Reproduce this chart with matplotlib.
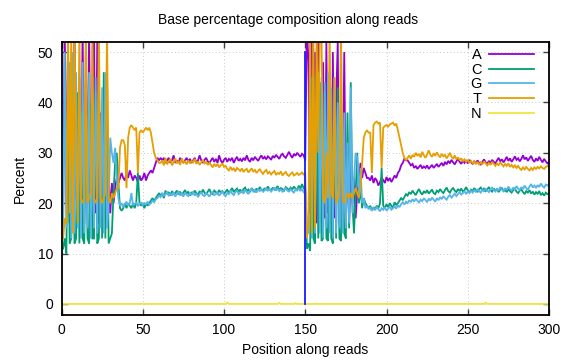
import numpy as np
import matplotlib
matplotlib.use("Agg")
import matplotlib.pyplot as plt

# ---------------- data (percent per position along reads) ----------------
positions = list(range(1, 301))
read_boundary = 150
boundary_span = [0, 50]

A1 = [18, 55, 20, 52, 16, 48, 17, 55, 22, 17, 45, 18, 55, 16, 50, 20, 55, 17, 30, 55,
      18, 52, 16, 38, 19, 30, 17, 22, 26, 18, 24, 20, 23, 25, 24,
      25, 26, 25, 24.5, 26, 25, 26.5, 25.5, 24.5, 25.5, 25, 24.2, 25.5, 24.5, 25, 26, 24.5, 25.5, 26, 26.5,
      26, 27, 28, 29, 28.5,
      29, 28.5, 29, 28, 28.5, 29, 28, 28.5, 29.5, 28, 28.5, 28, 29, 28.5, 28, 28.5, 29, 28.2, 28.8, 28,
      28.5, 29, 28, 28.5, 29.5, 28.5, 28, 28.6, 29, 28.3, 28, 28.5, 29, 28.2, 28.8, 28, 29.5, 28.5, 28, 28.6,
      29, 28.2, 28.8, 28.5, 29, 28, 28.7, 29.2, 28.4, 28.8, 28.3, 29, 28.5, 29.5, 28.6, 28.2, 29, 28.5, 29.2, 28.8,
      28.4, 29, 29.5, 28.8, 29.2, 28.7, 29.3, 29, 28.6, 29.4, 29, 29.6, 29.2, 28.8, 29.5, 29.8, 29.3, 29, 29.6, 30.2,
      29.5, 29, 29.8, 29.4, 30, 29.6, 29.2, 29.8, 29.5, 28.5]
A2 = [55, 48, 18, 52, 17, 50, 16, 55, 20, 16, 48, 17, 52, 18, 45, 16, 50, 17, 40, 52,
      16, 35, 18, 50, 17, 30, 16, 28, 20, 25, 17, 22, 24, 28, 25, 27, 26, 25,
      25, 24.5, 25.5, 24, 25, 24.5, 23.5, 24.2, 25, 24.6, 24, 25.2, 24.4, 25, 24.2, 24.8, 25.5, 25, 26, 26.5,
      27.5, 28, 28.8, 28.5,
      28.5, 28, 27.5, 27.8, 27, 27.4, 26.8, 27.2, 27.6, 26.9, 27.3, 27, 27.5, 26.8, 27.2, 27.6, 27, 27.4, 27.8, 27.2,
      27.6, 28, 27.4, 28.2, 27.7, 28.4, 27.9, 28.6, 28.1, 27.7, 28.3, 28.8, 28.2, 27.8, 28.5, 28, 28.4, 27.9, 28.6, 28.1,
      27.8, 28.3, 27.9, 28.5, 28, 27.6, 28.2, 28.7, 28.1, 27.8, 28.4, 28, 28.6, 28.2, 27.9, 28.5, 29, 28.3, 28.7, 28.1,
      28.6, 29.2, 28.4, 28.9, 28.2, 28.7, 29.3, 28.6, 28.9, 28.3, 28.8, 29.5, 28.7, 29.1, 28.4, 28.9, 29.4, 28.6, 28.2, 28.9,
      28.4, 29.2, 28.6, 28.1, 28.8, 28.3, 27.9, 28.2]

C1 = [11, 13, 10, 40, 12, 13, 45, 12, 13, 42, 12, 38, 13, 12, 44, 13, 12, 40, 13, 13,
      42, 12, 13, 36, 13, 46, 13, 47, 12, 13, 14, 22, 28, 30, 24,
      19, 18.5, 19, 20, 19, 20, 19.5, 19, 20, 19, 20, 26, 20, 19.5, 20, 19, 20, 19.5, 20, 20.5,
      21, 20.5, 21, 21.5, 22,
      21.5, 22, 21, 22.5, 21.8, 22.2, 21.5, 22.4, 21.8, 22, 22.5, 21.7, 22.3, 21.6, 22.1, 22.6, 21.9, 22.3, 21.5, 22.2,
      21.8, 22.5, 22, 21.6, 22.4, 21.9, 22.7, 22.1, 21.7, 22.3, 22.8, 22, 21.8, 22.5, 22.2, 21.9, 22.6, 22.1, 22.4, 21.8,
      22.3, 22.7, 22, 22.5, 23, 22.2, 22.6, 22.9, 22.3, 22.7, 22.1, 22.8, 23.1, 22.4, 22.7, 22.2, 23, 22.6, 22.3, 22.9,
      22.5, 23.2, 22.7, 22.4, 23, 22.6, 23.3, 22.8, 22.5, 23.1, 22.7, 22.9, 23.4, 22.6, 23, 22.8, 22.5, 23.2, 22.9, 22.6,
      23.1, 22.7, 23.3, 22.9, 22.5, 23.5, 22.8, 23.8, 23, 22.6]
C2 = [11, 12, 10.5, 45, 13, 12, 46, 13, 44, 12.5, 13, 42, 13, 12.5, 45, 13, 12, 40, 13, 43,
      13, 12.5, 30, 14, 13, 38, 15, 44, 20, 14, 22, 30, 20, 23, 19, 21, 20, 19.5,
      19, 19.5, 18.5, 19.2, 18.8, 19.5, 19, 20, 27, 19.5, 19, 19.8, 19.2, 20, 19.5, 19, 20.2, 19.6, 20, 20.5,
      21, 20.6, 21.2, 21.8,
      21.5, 22.2, 21.8, 22.5, 22, 21.6, 22.3, 22.8, 22.1, 21.7, 22.4, 22, 22.6, 21.9, 22.3, 22.7, 22, 21.8, 22.5, 22.2,
      22.8, 22.3, 22, 22.6, 23.1, 22.4, 22.1, 22.7, 23, 22.5, 22.2, 22.8, 22.4, 22.9, 22.3, 22.6, 23.2, 22.5, 22.1, 22.7,
      22.4, 23, 22.6, 22.2, 22.8, 23.1, 22.5, 22.9, 22.4, 22.7, 23.2, 22.6, 22.3, 22.9, 22.5, 22.8, 22.2, 22.7, 23, 22.4,
      22.6, 22.2, 22.8, 22.4, 22.1, 22.6, 22.9, 22.3, 22, 22.5, 22.7, 22.2, 21.8, 22.4, 22.1, 22.6, 21.9, 22.3, 21.7, 22.2,
      21.8, 22.4, 21.6, 22, 21.5, 22.1, 21.8, 22]

G1 = [14, 50, 15, 45, 48, 13, 50, 14, 46, 15, 40, 13, 48, 14, 44, 15, 46, 13, 40, 15,
      45, 14, 47, 15, 43, 14, 46, 15, 20, 33, 30, 28, 31, 25, 21,
      19.5, 20, 19.2, 19.8, 20.3, 19.5, 20, 22, 19.6, 19.8, 20.2, 19.4, 19.9, 20.1, 19.6, 20, 19.8, 20.3, 19.7, 20,
      20.5, 20.2, 20.8, 21, 21.5,
      21.2, 22, 21.5, 21.8, 22.3, 21.4, 21.9, 21.6, 22.2, 21.3, 21.8, 22.4, 21.6, 21.9, 21.3, 22.1, 21.7, 21.4, 22, 21.6,
      22.3, 21.5, 21.9, 21.2, 21.8, 22.2, 21.6, 21.4, 22, 21.7, 21.3, 21.9, 22.3, 21.6, 21.8, 22.1, 21.5, 21.9, 22.4, 21.7,
      21.4, 22, 21.8, 22.5, 21.9, 21.6, 22.2, 22.6, 21.8, 22.1, 22.4, 21.9, 22.7, 22.2, 21.8, 22.5, 22.9, 22.3, 22.6, 22.1,
      22.8, 22.4, 22.9, 22.2, 22.6, 23, 22.5, 22.8, 22.3, 22.7, 23.1, 22.5, 22.9, 22.4, 22.8, 22.2, 22.6, 23, 22.5, 22.3,
      22.8, 22.4, 22.1, 22.7, 22.5, 23, 22.4, 22.8, 22.2, 22.5]
G2 = [15, 14, 47, 13, 45, 14, 40, 46, 14, 45, 13, 44, 15, 46, 14, 43, 13, 45, 14, 40,
      15, 42, 14, 38, 15, 32, 16, 43, 18, 25, 30, 29, 22, 27, 20, 21, 19, 19.5,
      18.8, 19.2, 18.5, 19, 18.6, 19.3, 18.8, 18.4, 19, 18.7, 19.2, 18.5, 18.9, 19.3, 18.7, 19, 19.4, 18.9, 19.6, 19.2,
      19.8, 20.2, 19.7, 20.3,
      20, 20.6, 20.2, 20.8, 20.3, 20.9, 20.5, 20.1, 20.7, 20.4, 21, 20.6, 20.2, 20.9, 20.5, 21.1, 20.7, 20.3, 21, 20.6,
      21.2, 20.8, 21.4, 21, 20.7, 21.3, 21.6, 21.1, 21.5, 21.9, 21.4, 21.8, 22.2, 21.7, 22, 22.4, 21.8, 22.3, 22, 22.5,
      22.1, 22.6, 22.2, 22.8, 22.4, 22.1, 22.7, 22.3, 22.9, 22.5, 22.2, 22.8, 23.1, 22.6, 22.3, 22.9, 22.5, 23.2, 22.7, 22.4,
      23, 22.6, 23.3, 22.8, 22.5, 23.1, 22.7, 23.4, 22.9, 22.6, 23.2, 22.8, 23.5, 23, 22.7, 23.3, 23.8, 23.1, 23.5, 23,
      23.6, 23.2, 23.9, 23.4, 23.1, 23.7, 23.5, 23.8]

T1 = [13, 17, 16, 55, 18, 55, 14, 55, 30, 16, 55, 21, 20, 21, 55, 20, 21, 22, 55, 21,
      20, 21, 55, 21, 20, 21, 22, 55, 21, 20, 22, 21, 22, 23, 23,
      31, 32.5, 32.5, 31.5, 23, 33, 35, 35.5, 35, 34.5, 35, 26, 34, 34.5, 34, 34.5, 35, 34.5, 35, 34,
      32, 30, 29, 28.5, 28,
      28, 28.5, 27.5, 29, 27.7, 28.3, 28.8, 27.5, 28.1, 28.9, 27.9, 28.4, 27.6, 28.9, 28, 28.3, 27.7, 28.5, 27.9, 28.4,
      28.1, 28.8, 27.8, 28.3, 27.6, 28.1, 28.6, 27.9, 28.2, 27.6, 28, 27.6, 27.1, 27.8, 27.3, 27.8, 27.1, 27.5, 27.9, 27.2,
      27.4, 26.8, 26.5, 27.2, 26.6, 26.9, 26.3, 27, 26.7, 26.4, 26.9, 26.2, 26.6, 26.8, 26.1, 26.5, 26.9, 26.3, 26.6, 26,
      26.4, 26.8, 26.2, 25.8, 26.3, 26.6, 25.9, 26.2, 25.7, 26.1, 26.4, 25.6, 26, 25.8, 26.3, 25.5, 25.9, 26.2, 25.6, 25.4,
      25.8, 26.1, 25.5, 25.7, 26, 25.6, 25.8, 26.1, 25.7, 26]
T2 = [13, 16, 55, 14, 55, 15, 55, 30, 55, 55, 21, 20, 30, 21, 55, 22, 21, 45, 20, 21,
      22, 55, 21, 20, 21, 22, 21, 22, 21, 22, 23, 22, 21, 23,
      28, 33, 34, 34.5, 34, 34, 26, 35.5, 36, 36.2, 35.8, 36, 27, 35, 35.3, 35.5, 35.2, 35.6, 35.8, 36,
      35.4, 35.8, 34.5, 33, 31.5, 30, 29, 28.5,
      29, 29.5, 28.8, 29.6, 29.2, 30, 29.4, 29.8, 29.1, 30.2, 29.5, 29, 29.7, 30.5, 29.6, 29.2, 29.9, 29.4, 30.1, 29.5,
      29.1, 29.8, 29.3, 29.6, 28.9, 29.4, 30, 29.2, 28.8, 29.5, 28.7, 29.1, 28.5, 28.9, 28.3, 28.7, 28.2, 28.6, 28, 28.4,
      27.9, 28.3, 27.8, 28.2, 27.6, 28.1, 27.7, 28.3, 27.9, 27.5, 28, 27.6, 28.2, 27.8, 27.4, 27.9, 27.5, 28.1, 27.7, 27.3,
      27.8, 27.4, 27.9, 27.2, 27.6, 27.1, 27.5, 27, 27.4, 26.9, 26.6, 27.1, 26.7, 27.2, 26.8, 26.5, 27, 26.6, 27.1, 26.8,
      27.2, 26.9, 27.3, 27, 26.8, 27.2, 27.4, 27.1]

N1 = [0, 0, 0, 0, 0, 0, 0, 0, 0, 0, 0, 0, 0, 0, 0, 0, 0, 0, 0, 0, 0, 0, 0, 0, 0,
      0, 0, 0, 0, 0, 0, 0, 0, 0, 0, 0, 0, 0, 0, 0, 0, 0, 0, 0, 0, 0, 0, 0, 0, 0,
      0, 0, 0, 0, 0, 0, 0, 0, 0, 0, 0, 0, 0, 0, 0, 0, 0, 0, 0, 0, 0, 0, 0, 0, 0,
      0, 0, 0, 0, 0, 0, 0, 0, 0, 0, 0, 0, 0, 0, 0, 0, 0, 0, 0, 0, 0, 0, 0, 0, 0,
      0, 0.3, 0, 0, 0, 0, 0, 0, 0, 0, 0, 0, 0, 0, 0, 0, 0, 0, 0, 0, 0, 0, 0, 0, 0,
      0, 0, 0, 0, 0, 0, 0, 0, 0.2, 0, 0, 0, 0, 0, 0, 0, 0, 0, 0.15, 0, 0, 0, 0, 0, 0]
N2 = [0, 0, 0, 0, 0, 0, 0, 0, 0, 0, 0, 0, 0, 0, 0, 0, 0, 0, 0, 0, 0, 0, 0, 0, 0,
      0, 0, 0, 0, 0, 0, 0, 0, 0, 0, 0, 0, 0, 0, 0, 0, 0, 0, 0, 0, 0, 0, 0, 0, 0,
      0, 0, 0, 0, 0, 0, 0, 0, 0, 0, 0, 0, 0, 0, 0, 0, 0, 0, 0, 0, 0, 0, 0, 0, 0,
      0, 0, 0, 0, 0, 0, 0, 0, 0, 0, 0, 0, 0, 0, 0, 0, 0, 0, 0, 0, 0, 0, 0, 0, 0,
      0, 0, 0, 0, 0, 0, 0, 0, 0, 0, 0.25, 0, 0, 0, 0, 0, 0, 0, 0, 0, 0, 0, 0, 0, 0,
      0, 0, 0, 0, 0, 0, 0, 0, 0, 0, 0, 0, 0, 0, 0, 0, 0, 0, 0, 0, 0, 0, 0, 0, 0]

series = [("A", A1 + A2, "#9400d3"),
          ("C", C1 + C2, "#009e73"),
          ("G", G1 + G2, "#56b4e9"),
          ("T", T1 + T2, "#e69f00"),
          ("N", N1 + N2, "#f0e442")]

xticks = [0, 50, 100, 150, 200, 250, 300]
yticks = [0, 10, 20, 30, 40, 50]

# ---------------- figure ----------------
plt.rcParams['font.family'] = ['Liberation Sans', 'DejaVu Sans']
plt.rcParams['font.size'] = 10

fig = plt.figure(figsize=(5.76, 3.6), dpi=100)
ax = fig.add_axes([61.5 / 576, 45 / 360, 487.5 / 576, 273 / 360])

for label, vals, col in series:
    ax.plot(positions, vals, color=col, lw=1.3, label=label, solid_joinstyle='miter')

ax.plot([read_boundary, read_boundary], boundary_span, color="#1a1aff", lw=1.3, zorder=3)

ax.set_xlim(0, 300)
ax.set_ylim(-2.2, 52)
ax.set_xticks(xticks)
ax.set_yticks(yticks)
ax.grid(True, color="#c8c8c8", linestyle=(0, (1, 2.5)), linewidth=0.7)
ax.tick_params(direction='in', top=True, right=True, length=4, width=1, color='#404040', pad=6)
for s in ax.spines.values():
    s.set_linewidth(1.3)

ax.set_xlabel("Position along reads", labelpad=4)
ax.set_ylabel("Percent", labelpad=8)
fig.text(0.5, 1 - 20 / 360, "Base percentage composition along reads", ha='center', va='center', fontsize=10)

leg = ax.legend(loc='upper right', bbox_to_anchor=(0.969, 0.978), frameon=False, markerfirst=False,
                handlelength=3.1, handletextpad=0.5, labelspacing=0.05, borderpad=0, borderaxespad=0,
                fontsize=10.5)
for t in leg.get_texts():
    t.set_ha('right')

fig.savefig("out.png", dpi=100)
